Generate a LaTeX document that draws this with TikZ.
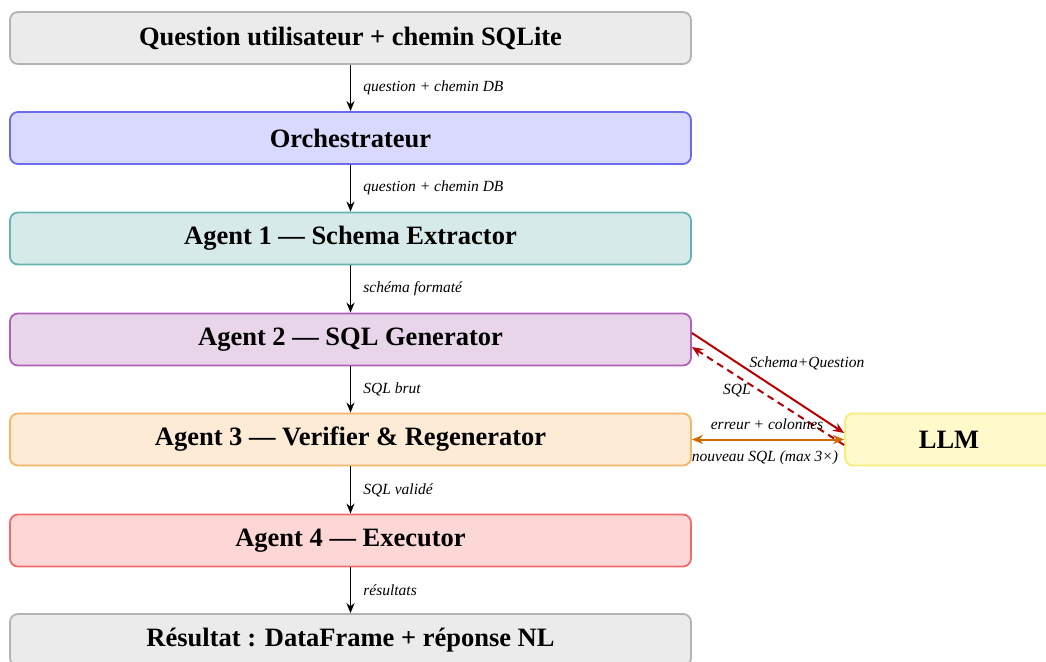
\documentclass[tikz,border=0pt]{standalone}
\usepackage{fontspec}
\setmainfont{Liberation Serif}
\usetikzlibrary{arrows.meta,calc}

\definecolor{grayfill}{HTML}{EBEBEB}\definecolor{grayline}{HTML}{B3B3B3}
\definecolor{bluefill}{HTML}{D9D9FF}\definecolor{blueline}{HTML}{6B6BEE}
\definecolor{tealfill}{HTML}{D6EAEA}\definecolor{tealline}{HTML}{67B3B3}
\definecolor{purpfill}{HTML}{E8D5EA}\definecolor{purpline}{HTML}{B060B8}
\definecolor{orfill}{HTML}{FDEBD6}\definecolor{orline}{HTML}{F5B56A}
\definecolor{redfill}{HTML}{FDD6D6}\definecolor{redline}{HTML}{F06B6B}
\definecolor{yelfill}{HTML}{FFF9CC}\definecolor{yelline}{HTML}{F5EE7A}
\definecolor{llmred}{HTML}{B80000}
\definecolor{llmorange}{HTML}{D06A00}

\tikzset{
  x=1pt, y=-1pt,
  stage/.style={draw, line width=1.8pt, rounded corners=8pt,
    minimum width=681pt, minimum height=52pt, inner sep=0pt,
    font=\fontsize{26.5}{30}\selectfont\bfseries},
  flow/.style={-{Stealth[length=10pt,width=8pt]}, line width=1.8pt, black},
  lbl/.style={font=\fontsize{15.5}{18}\selectfont\itshape, anchor=west, inner sep=0pt},
  llmcall/.style={line width=2pt, llmred, -{Stealth[length=11pt,width=9pt]}},
  retryarrow/.style={line width=2pt, llmorange,
    {Stealth[length=11pt,width=9pt]}-{Stealth[length=11pt,width=9pt]}},
}

\begin{document}
\begin{tikzpicture}
\useasboundingbox (0,0) rectangle (1046,661);
\clip (0,0) rectangle (1046,661);

\node[stage, fill=grayfill, draw=grayline] (b1) at (350.5,38) {Question utilisateur + chemin SQLite};
\node[stage, fill=bluefill, draw=blueline] (b2) at (350.5,138) {Orchestrateur};
\node[stage, fill=tealfill, draw=tealline] (b3) at (350.5,238.5) {Agent 1 — Schema Extractor};
\node[stage, fill=purpfill, draw=purpline] (b4) at (350.5,339.5) {Agent 2 — SQL Generator};
\node[stage, fill=orfill, draw=orline] (b5) at (350.5,439.5) {Agent 3 — Verifier \& Regenerator};
\node[stage, fill=redfill, draw=redline] (b6) at (350.5,540.5) {Agent 4 — Executor};
\node[stage, fill=grayfill, draw=grayline] (b7) at (350.5,640) {Résultat : DataFrame + réponse NL};
\node[stage, fill=yelfill, draw=yelline, minimum width=208pt] (llm) at (949,439.5) {LLM};

\draw[flow] (b1) -- (b2) node[lbl, midway, xshift=12pt] {question + chemin DB};
\draw[flow] (b2) -- (b3) node[lbl, midway, xshift=12pt] {question + chemin DB};
\draw[flow] (b3) -- (b4) node[lbl, midway, xshift=12pt] {schéma formaté};
\draw[flow] (b4) -- (b5) node[lbl, midway, xshift=12pt] {SQL brut};
\draw[flow] (b5) -- (b6) node[lbl, midway, xshift=12pt] {SQL validé};
\draw[flow] (b6) -- (b7) node[lbl, midway, xshift=12pt] {résultats};

\draw[llmcall] ([yshift=6.5pt]b4.east) -- ([yshift=6.5pt]llm.west);
\draw[llmcall, dashed, dash pattern=on 7pt off 5pt] ([yshift=-5.5pt]llm.west) -- ([yshift=-7.5pt]b4.east);
\draw[retryarrow] (b5.east) -- (llm.west);

\node[lbl, anchor=center] (tq) at (807,363) {Schema+Question};
\node[lbl, anchor=center] (ts) at (737,391) {SQL};
\node[lbl, anchor=center] (te) at (767,424) {erreur + colonnes};
\node[lbl, anchor=center] (tn) at (765,458) {nouveau SQL (max 3×)};
\end{tikzpicture}
\end{document}
